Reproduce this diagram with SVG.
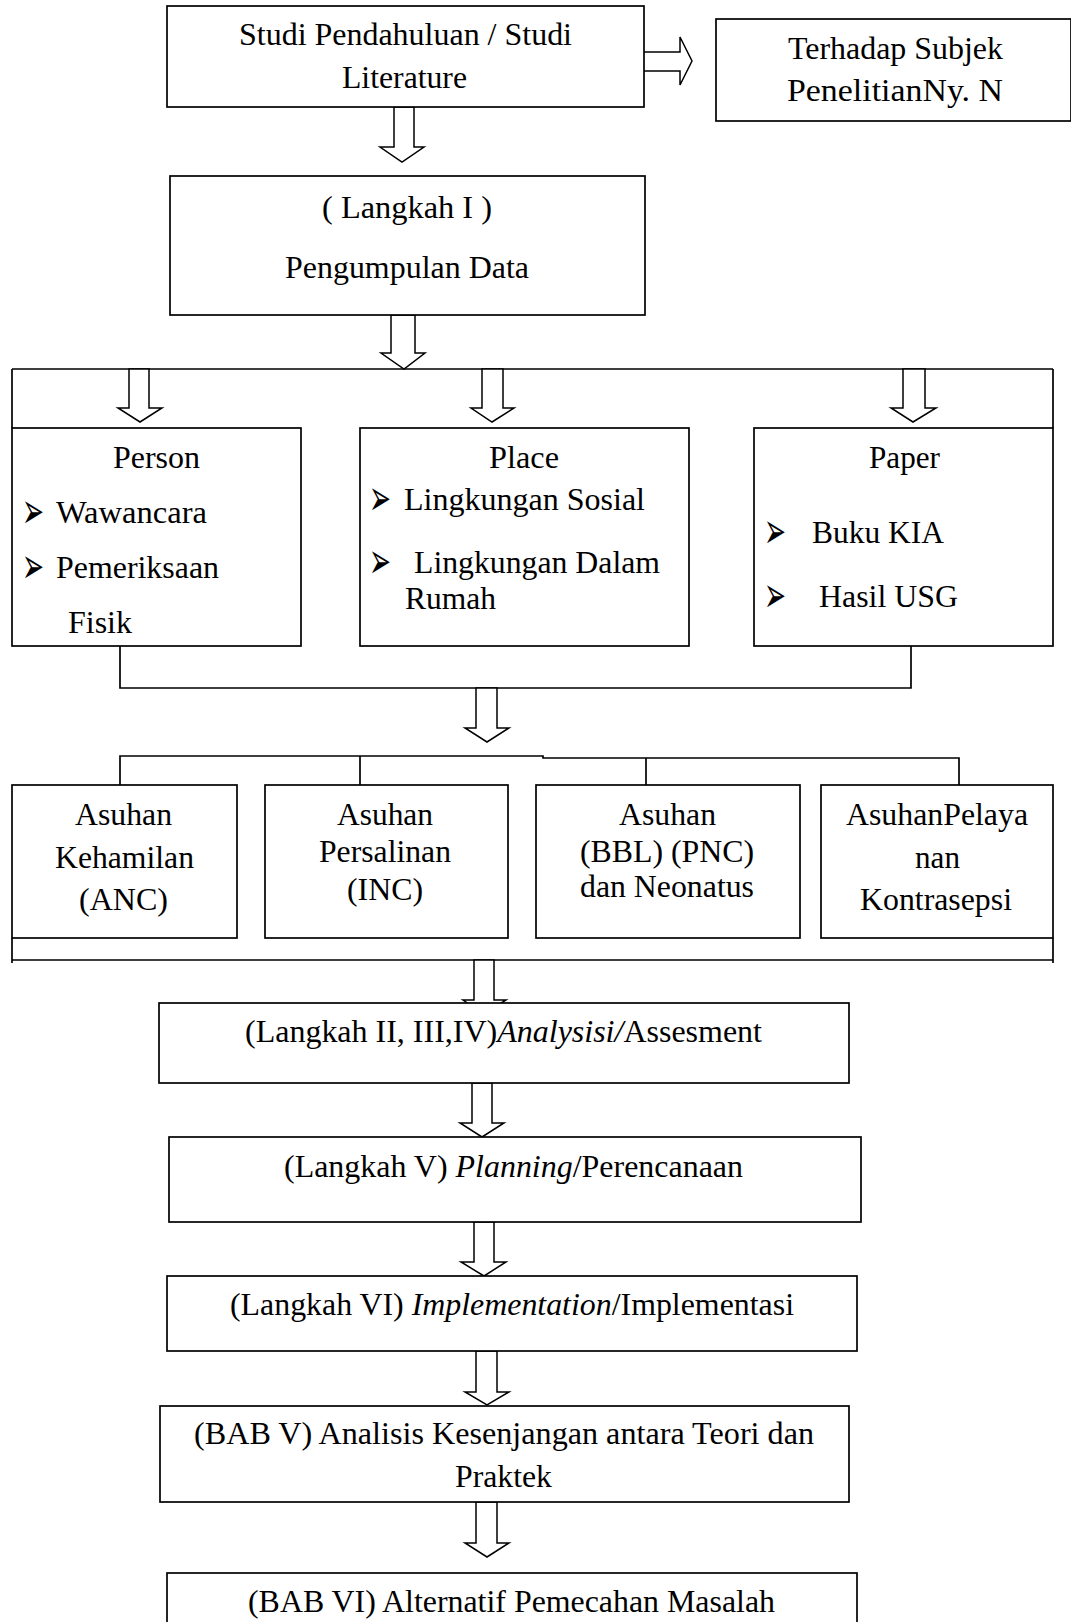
<svg xmlns="http://www.w3.org/2000/svg" width="1071" height="1622" viewBox="0 0 1071 1622" font-family="'Liberation Serif', 'Times New Roman', Tinos, serif">
<style>
.bg{fill:#fff}
.box{fill:#fff;stroke:#000;stroke-width:1.7}
.ln{fill:none;stroke:#000;stroke-width:1.7}
.arr{fill:#fff;stroke:#000;stroke-width:1.5;stroke-linejoin:miter}
.t{font-family:'Liberation Serif','Times New Roman',Tinos,serif;fill:#000;font-size:32px}
.m{text-anchor:middle}
.b{font-family:'DejaVu Sans',sans-serif;font-size:40px;fill:#000}
.i{font-style:italic}
</style>
<rect class="bg" x="0" y="0" width="1071" height="1622"/>
<g id="connectors">
  <polygon class="arr" points="643,52 680,52 680,37 692,61 680,85 680,71 643,71"/>
  <polygon class="arr" points="394,107 394,147 380,147 402,162 424,147 414,147 414,107"/>
  <polygon class="arr" points="391,315 391,353 381,353 404,369 425,353 415,353 415,315"/>
  <path class="ln" d="M12,369 H1053 M12,369 V428 M1053,369 V428"/>
  <polygon class="arr" points="129,369 129,408 118,408 140,422 162,408 149,408 149,369"/>
  <polygon class="arr" points="482,369 482,408 471,408 492,422 514,408 503,408 503,369"/>
  <polygon class="arr" points="903,369 903,408 891,408 913,422 936,408 925,408 925,369"/>
  <path class="ln" d="M120,646 V688 H911 V646"/>
  <polygon class="arr" points="476,688 476,728 465,728 487,742 509,728 497,728 497,688"/>
  <path class="ln" d="M120,785 V756 H543 V758 H959 V785 M360,756 V785 M646,758 V785"/>
  <path class="ln" d="M12,938 V963 M12,960 H1053 M1053,938 V963"/>
  <polygon class="arr" points="474,960 474,1000 463,1000 484,1014 506,1000 494,1000 494,960"/>
  <polygon class="arr" points="472,1083 472,1123 460,1123 482,1137 504,1123 492,1123 492,1083"/>
  <polygon class="arr" points="474,1222 474,1262 461,1262 484,1276 506,1262 494,1262 494,1222"/>
  <polygon class="arr" points="476,1351 476,1392 465,1392 487,1405 509,1392 497,1392 497,1351"/>
  <polygon class="arr" points="476,1502 476,1543 465,1543 487,1557 509,1543 497,1543 497,1502"/>
</g>
<g id="studi">
  <rect class="box" x="167" y="6" width="477" height="101"/>
  <text class="t m" x="405.5" y="45" textLength="333" lengthAdjust="spacingAndGlyphs">Studi Pendahuluan / Studi</text>
  <text class="t m" x="404.5" y="88" textLength="125" lengthAdjust="spacingAndGlyphs">Literature</text>
</g>
<g id="terhadap">
  <rect class="box" x="716" y="19" width="355" height="102"/>
  <text class="t m" x="895.5" y="59" textLength="215" lengthAdjust="spacingAndGlyphs">Terhadap Subjek</text>
  <text class="t m" x="895" y="101" textLength="216" lengthAdjust="spacingAndGlyphs">PenelitianNy. N</text>
</g>
<g id="langkah1">
  <rect class="box" x="170" y="176" width="475" height="139"/>
  <text class="t m" x="407" y="218" textLength="170" lengthAdjust="spacingAndGlyphs">( Langkah I )</text>
  <text class="t m" x="407" y="278" textLength="244" lengthAdjust="spacingAndGlyphs">Pengumpulan Data</text>
</g>
<g id="person">
  <rect class="box" x="12" y="428" width="289" height="218"/>
  <text class="t m" x="156.5" y="468" textLength="87" lengthAdjust="spacingAndGlyphs">Person</text>
  <text class="b" transform="translate(22 528) scale(1 1.25)" textLength="22" lengthAdjust="spacingAndGlyphs">➢</text>
  <text class="t" x="56" y="523" textLength="151" lengthAdjust="spacingAndGlyphs">Wawancara</text>
  <text class="b" transform="translate(22 583) scale(1 1.25)" textLength="22" lengthAdjust="spacingAndGlyphs">➢</text>
  <text class="t" x="56" y="578" textLength="163" lengthAdjust="spacingAndGlyphs">Pemeriksaan</text>
  <text class="t" x="68" y="633" textLength="64" lengthAdjust="spacingAndGlyphs">Fisik</text>
</g>
<g id="place">
  <rect class="box" x="360" y="428" width="329" height="218"/>
  <text class="t m" x="524" y="468" textLength="70" lengthAdjust="spacingAndGlyphs">Place</text>
  <text class="b" transform="translate(369 515) scale(1 1.25)" textLength="22" lengthAdjust="spacingAndGlyphs">➢</text>
  <text class="t" x="404" y="510" textLength="241" lengthAdjust="spacingAndGlyphs">Lingkungan Sosial</text>
  <text class="b" transform="translate(369 578) scale(1 1.25)" textLength="22" lengthAdjust="spacingAndGlyphs">➢</text>
  <text class="t" x="414" y="573" textLength="246" lengthAdjust="spacingAndGlyphs">Lingkungan Dalam</text>
  <text class="t" x="405" y="609" textLength="91" lengthAdjust="spacingAndGlyphs">Rumah</text>
</g>
<g id="paper">
  <rect class="box" x="754" y="428" width="299" height="218"/>
  <text class="t m" x="904.5" y="468" textLength="71" lengthAdjust="spacingAndGlyphs">Paper</text>
  <text class="b" transform="translate(764 548) scale(1 1.25)" textLength="22" lengthAdjust="spacingAndGlyphs">➢</text>
  <text class="t" x="812" y="543" textLength="132" lengthAdjust="spacingAndGlyphs">Buku KIA</text>
  <text class="b" transform="translate(764 612) scale(1 1.25)" textLength="22" lengthAdjust="spacingAndGlyphs">➢</text>
  <text class="t" x="819" y="607" textLength="139" lengthAdjust="spacingAndGlyphs">Hasil USG</text>
</g>
<g id="anc">
  <rect class="box" x="12" y="785" width="225" height="153"/>
  <text class="t m" x="123.5" y="825" textLength="97" lengthAdjust="spacingAndGlyphs">Asuhan</text>
  <text class="t m" x="124.5" y="868" textLength="139" lengthAdjust="spacingAndGlyphs">Kehamilan</text>
  <text class="t m" x="123.5" y="910" textLength="89" lengthAdjust="spacingAndGlyphs">(ANC)</text>
</g>
<g id="inc">
  <rect class="box" x="265" y="785" width="243" height="153"/>
  <text class="t m" x="385" y="825" textLength="96" lengthAdjust="spacingAndGlyphs">Asuhan</text>
  <text class="t m" x="385" y="862" textLength="132" lengthAdjust="spacingAndGlyphs">Persalinan</text>
  <text class="t m" x="385" y="900" textLength="76" lengthAdjust="spacingAndGlyphs">(INC)</text>
</g>
<g id="bbl">
  <rect class="box" x="536" y="785" width="264" height="153"/>
  <text class="t m" x="667.5" y="825" textLength="97" lengthAdjust="spacingAndGlyphs">Asuhan</text>
  <text class="t m" x="667" y="862" textLength="174" lengthAdjust="spacingAndGlyphs">(BBL) (PNC)</text>
  <text class="t m" x="667" y="897" textLength="174" lengthAdjust="spacingAndGlyphs">dan Neonatus</text>
</g>
<g id="kontrasepsi">
  <rect class="box" x="821" y="785" width="232" height="153"/>
  <text class="t m" x="937" y="825" textLength="182" lengthAdjust="spacingAndGlyphs">AsuhanPelaya</text>
  <text class="t m" x="937.5" y="868" textLength="45" lengthAdjust="spacingAndGlyphs">nan</text>
  <text class="t m" x="936" y="910" textLength="152" lengthAdjust="spacingAndGlyphs">Kontrasepsi</text>
</g>
<g id="langkah2">
  <rect class="box" x="159" y="1003" width="690" height="80"/>
  <text class="t m" x="503.5" y="1042" textLength="517" lengthAdjust="spacingAndGlyphs">(Langkah II, III,IV)<tspan class="i">Analysisi/</tspan>Assesment</text>
</g>
<g id="langkah5">
  <rect class="box" x="169" y="1137" width="692" height="85"/>
  <text class="t m" x="513.5" y="1177" textLength="459" lengthAdjust="spacingAndGlyphs">(Langkah V) <tspan class="i">Planning</tspan>/Perencanaan</text>
</g>
<g id="langkah6">
  <rect class="box" x="167" y="1276" width="690" height="75"/>
  <text class="t m" x="512" y="1315" textLength="564" lengthAdjust="spacingAndGlyphs">(Langkah VI) <tspan class="i">Implementation</tspan>/Implementasi</text>
</g>
<g id="bab5">
  <rect class="box" x="160" y="1406" width="689" height="96"/>
  <text class="t m" x="504" y="1444" textLength="620" lengthAdjust="spacingAndGlyphs">(BAB V) Analisis Kesenjangan antara Teori dan</text>
  <text class="t m" x="503.5" y="1487" textLength="97" lengthAdjust="spacingAndGlyphs">Praktek</text>
</g>
<g id="bab6">
  <rect class="box" x="167" y="1573" width="690" height="60"/>
  <text class="t m" x="511.5" y="1612" textLength="527" lengthAdjust="spacingAndGlyphs">(BAB VI) Alternatif Pemecahan Masalah</text>
</g>
</svg>
